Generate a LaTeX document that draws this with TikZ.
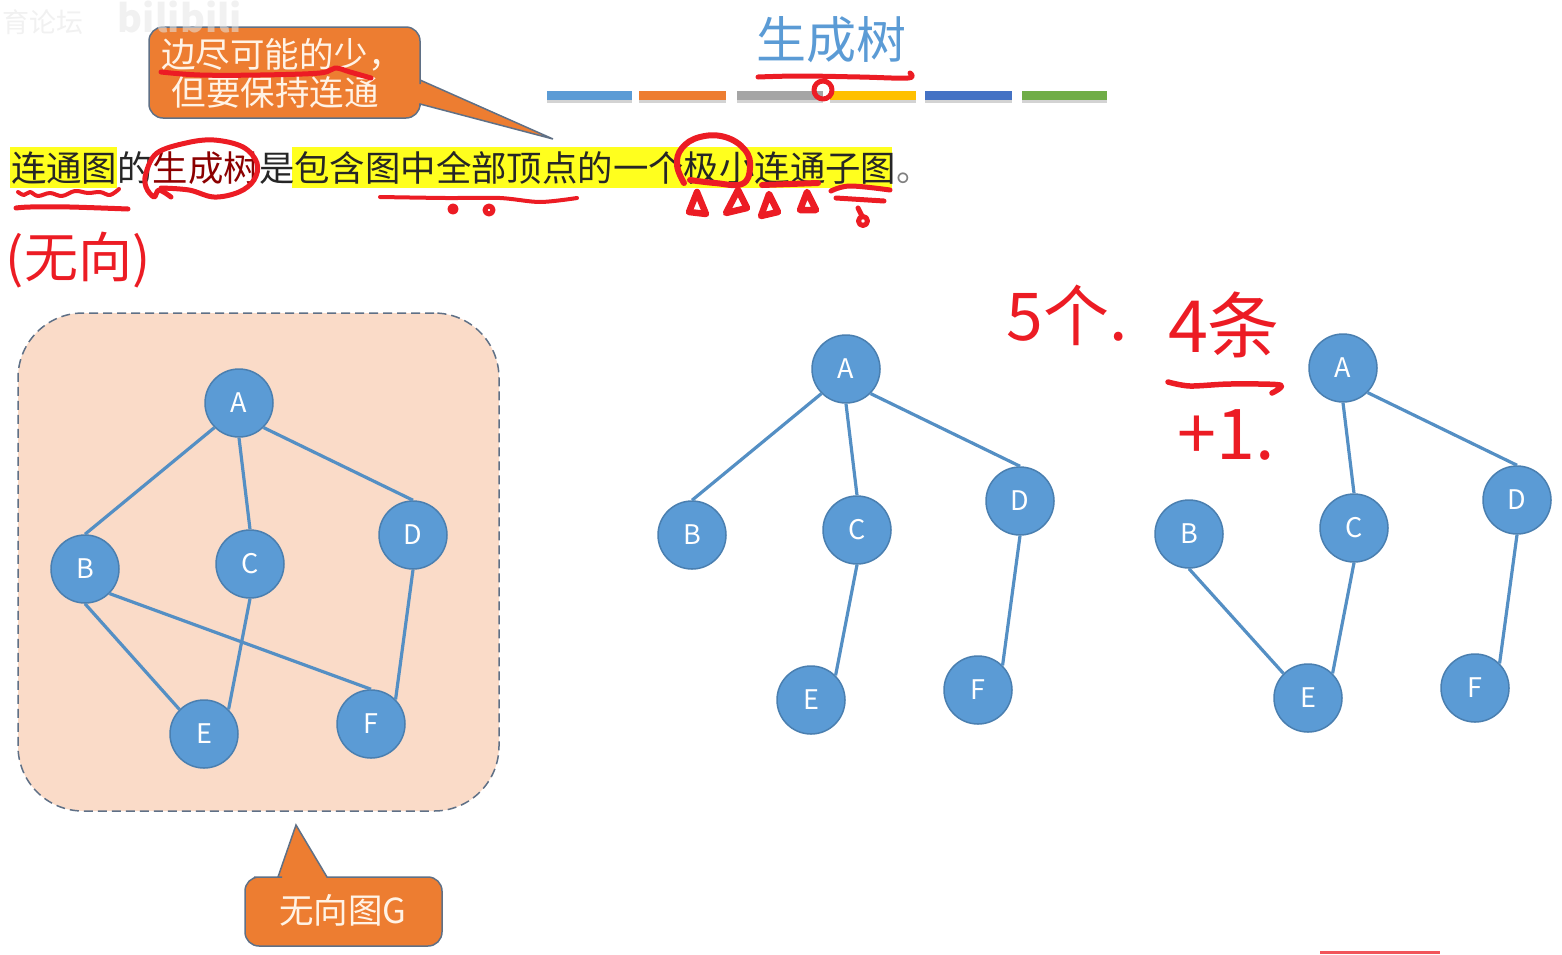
\documentclass[tikz,border=0pt]{standalone}
\usepackage{fontspec}
\setmainfont{Noto Sans CJK SC}
\usetikzlibrary{shadows}
\definecolor{nodeblue}{HTML}{5B9BD5}
\definecolor{nodeline}{HTML}{4A7FB0}
\definecolor{panelfill}{HTML}{FADBC8}
\definecolor{panelline}{HTML}{5F7086}
\definecolor{calloutfill}{HTML}{ED7D31}
\definecolor{creamtext}{HTML}{FFF3E6}
\definecolor{inkred}{HTML}{EC1C24}
\definecolor{marker}{HTML}{FFFF1E}
\definecolor{bargray}{HTML}{A5A5A5}
\definecolor{bargold}{HTML}{FFC000}
\definecolor{bardeep}{HTML}{4472C4}
\definecolor{bargreen}{HTML}{70AD47}
\tikzset{
    vertex/.style={draw=nodeline, line width=1.5pt, fill=nodeblue, circle, minimum size=68pt, inner sep=0pt, text=white, font=\fontsize{27}{27}\selectfont},
    link/.style={draw=nodeblue!92!black, line width=3.2pt},
    barbox/.style={minimum height=9pt, inner sep=0pt, drop shadow={shadow xshift=0pt, shadow yshift=-3pt, opacity=.35}},
    markbox/.style={fill=marker, inner sep=0pt, minimum height=41pt},
    calloutbox/.style={fill=calloutfill, draw=panelline, line width=1.5pt},
    calloutnode/.style={text=creamtext, inner sep=0pt, align=center, font=\fontsize{34.5}{38}\selectfont},
    ink/.style={draw=inkred, line width=5pt, line cap=round, line join=round},
    handtext/.style={text=inkred, inner sep=0pt, font=\fontsize{54}{54}\selectfont}
}

\begin{document}
\begin{tikzpicture}[x=1pt, y=-1pt]
        \useasboundingbox (0,0) rectangle (1562,954);

        \node[text=nodeblue, inner sep=0pt, font=\fontsize{50}{50}\selectfont] (title) at (831,40) {生成树};
        \node[barbox, fill=nodeblue, minimum width=85pt] (bar1) at (589.5,95) {};
        \node[barbox, fill=calloutfill, minimum width=87pt] (bar2) at (682.5,95) {};
        \node[barbox, fill=bargray, minimum width=86pt] (bar3) at (780,95) {};
        \node[barbox, fill=bargold, minimum width=86pt] (bar4) at (873,95) {};
        \node[barbox, fill=bardeep, minimum width=87pt] (bar5) at (968.5,95) {};
        \node[barbox, fill=bargreen, minimum width=85pt] (bar6) at (1064.5,95) {};

        \node[markbox, minimum width=107pt] (mark1) at (63.5,167.5) {};
        \node[markbox, minimum width=600pt] (mark2) at (592,167.5) {};
        \node[anchor=west, inner sep=0pt, text=black!85, font=\fontsize{35.4}{38}\selectfont] (sentence) at (11,168)
            {连通图的\textcolor{red!55!black}{生成树}是包含图中全部顶点的一个极小连通子图\textcolor{black!50}{。}};

        \path[calloutbox] [rounded corners=14pt] (149,118) -- (149,27) -- (420,27) -- (420,70) [sharp corners] -- (420,80) -- (553,139) -- (420,104) -- (420,106) [rounded corners=14pt] -- (420,118) -- cycle;
        \node[calloutnode] (hint) at (282,73) {边尽可能的少，\\但要保持连通\hspace*{14pt}};
        \path[calloutbox] [rounded corners=14pt] (245,946) -- (245,877) -- (268,877) [sharp corners] -- (278,877) -- (296,825) -- (327,877) -- (329,877) [rounded corners=14pt] -- (442,877) -- (442,946) -- cycle;
        \node[calloutnode] (graphname) at (343,910) {无向图G};

        \node[fill=panelfill, draw=panelline, line width=1.5pt, dash pattern=on 9pt off 5pt, rounded corners=65pt, minimum width=481pt, minimum height=498pt] (panel) at (258.5,562) {};

        \node[vertex] (A1) at (239,403) {A};
        \node[vertex] (B1) at (85,569) {B};
        \node[vertex] (C1) at (250,564) {C};
        \node[vertex] (D1) at (413,535) {D};
        \node[vertex] (E1) at (204,734) {E};
        \node[vertex] (F1) at (371,724) {F};

        \draw[link] (B1.north) -- (A1.south west);
        \draw[link] (A1.south) -- (C1.north);
        \draw[link] (A1.south east) -- (D1.north);
        \draw[link] (B1.south) -- (E1.north west);
        \draw[link] (B1.south east) -- (F1.north);
        \draw[link] (C1.south) -- (E1.north east);
        \draw[link] (D1.south) -- (F1.north east);

        \node[vertex] (A2) at (846,369) {A};
        \node[vertex] (B2) at (692,535) {B};
        \node[vertex] (C2) at (857,530) {C};
        \node[vertex] (D2) at (1020,501) {D};
        \node[vertex] (E2) at (811,700) {E};
        \node[vertex] (F2) at (978,690) {F};

        \draw[link] (B2.north) -- (A2.south west);
        \draw[link] (A2.south) -- (C2.north);
        \draw[link] (A2.south east) -- (D2.north);
        \draw[link] (C2.south) -- (E2.north east);
        \draw[link] (D2.south) -- (F2.north east);

        \node[vertex] (A3) at (1343,368) {A};
        \node[vertex] (B3) at (1189,534) {B};
        \node[vertex] (C3) at (1354,528) {C};
        \node[vertex] (D3) at (1517,500) {D};
        \node[vertex] (E3) at (1308,698) {E};
        \node[vertex] (F3) at (1475,688) {F};

        \draw[link] (A3.south) -- (C3.north);
        \draw[link] (A3.south east) -- (D3.north);
        \draw[link] (B3.south) -- (E3.north west);
        \draw[link] (C3.south) -- (E3.north east);
        \draw[link] (D3.south) -- (F3.north east);

        \node[handtext] (undirected) at (78,260) {(无向)};
        \node[handtext, font=\fontsize{66}{66}\selectfont] (count5) at (1067,315) {5个.};
        \node[handtext, font=\fontsize{72}{72}\selectfont] (count4) at (1224,325) {4条};
        \node[handtext, font=\fontsize{70}{70}\selectfont] (plusone) at (1226,435) {+1.};

        \draw[ink] plot[smooth, tension=.6] coordinates {(758,77) (800,76) (860,77) (908,78) (910,73)};
        \draw[ink] (823,90) circle (9pt);
        \draw[ink] plot[smooth, tension=.6] coordinates {(161,72) (200,75) (260,75) (320,73) (335,68) (350,72) (371,78)};
        \draw[ink, line width=4pt] plot[smooth, tension=.6] coordinates {(18,192) (24,195) (30,192) (38,196) (50,193) (62,196) (75,191) (88,193) (100,192) (110,195) (119,189)};
        \draw[ink] plot[smooth, tension=.5] coordinates {(16,208) (30,207) (70,207) (128,209)};
        \draw[ink] plot[smooth, tension=.6] coordinates {(171,197) (159,190) (154,197) (146,187) (146,173) (157,153) (186,143) (214,140) (243,147) (257,163) (254,180) (239,192) (214,197) (189,190) (161,188)};
        \draw[ink, line width=4pt] plot[smooth, tension=.5] coordinates {(380,197) (446,198) (500,198) (540,202) (577,198)};
        \draw[ink] (453,209) circle (3pt);
        \draw[ink] (489,210) circle (4pt);
        \draw[ink, line width=6pt] plot[smooth, tension=.7] coordinates {(684,183) (677,165) (682,148) (700,137) (725,137) (745,150) (750,168) (742,184) (715,183) (690,180)};
        \draw[ink, line width=6.5pt] (697,192) -- (689,212) -- (706,214) -- cycle;
        \draw[ink, line width=6.5pt] (738,190) -- (726,213) -- (747,208) -- cycle;
        \draw[ink, line width=6.5pt] (769,194) -- (761,216) -- (778,212) -- cycle;
        \draw[ink, line width=6.5pt] (807,192) -- (800,210) -- (816,210) -- cycle;
        \draw[ink, line width=6pt] (762,185) -- (818,183);
        \draw[ink] plot[smooth, tension=.6] coordinates {(831,191) (850,186) (890,190)};
        \draw[ink] (836,198) -- (884,201);
        \draw[ink] (858,208) -- (862,216);
        \draw[ink] (863,221) circle (4.5pt);
        \draw[ink, line width=5.5pt] plot[smooth, tension=.5] coordinates {(1168,382) (1190,386) (1230,384) (1280,385) (1272,393)};

        \fill[inkred!75] (1320,951) rectangle (1440,954);
        \node[text=black!10, opacity=.55, inner sep=0pt, font=\fontsize{27}{27}\selectfont] (forum) at (43,22) {育论坛};
        \node[text=black!10, opacity=.55, inner sep=0pt, font=\bfseries\fontsize{38}{38}\selectfont] (logo) at (180,17) {bilibili};
    \end{tikzpicture}
\end{document}
